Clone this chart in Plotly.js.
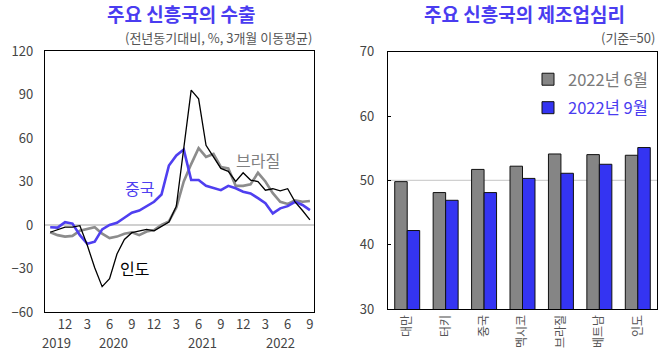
<!DOCTYPE html>
<html>
<head>
<meta charset="utf-8">
<script src="https://cdn.plot.ly/plotly-3.0.1.min.js"></script>
<style>html,body{margin:0;padding:0;background:#fff;}#chart{width:666px;height:352px;}</style>
</head>
<body>
<div id="chart"></div>
<script>
// ---- Left chart: exports (YoY %, 3-month moving average), Oct 2019 .. Sep 2022
const monthIndex = Array.from({length: 36}, (_, i) => i);
const monthTickVals = [2, 5, 8, 11, 14, 17, 20, 23, 26, 29, 32, 35];
const monthTickText = ["12", "3", "6", "9", "12", "3", "6", "9", "12", "3", "6", "9"];
const yearLabels = ["2019", "2020", "2021", "2022"];
const yearLabelPos = [0.9, 8.5, 20.5, 31.0];

const chinaExports = [-1.6, -1.8, 2, 1, -7, -13, -11.5, -3, 0, 1.5, 5, 8.5,
                      10, 13, 16, 21, 41, 48, 52, 31, 31, 27, 25.5, 24,
                      27, 25.3, 23, 21.8, 18.5, 15, 8, 11.5, 13, 16, 13.8, 10.3];
const indiaExports = [-5, -3, -1.5, -1.5, -0.5, -14, -29.5, -42.5, -37, -20, -10, -5.3,
                      -4, -3, -4, -1, 2, 13, 54, 93, 87, 55, 47, 39,
                      37, 30, 36, 31, 30, 24, 25, 23.5, 25, 16, 10, 3.5];
const brazilExports = [-5, -7, -8, -7.5, -4, -2.5, -1.5, -6, -9, -8, -6, -5,
                       -7, -4.5, -3.5, 0, 2.5, 12, 30, 42, 53, 47, 49, 40,
                       39, 27, 27, 28, 36, 30, 22, 16, 14.5, 17, 16, 16.5];

// ---- Right chart: manufacturing PMI
const countries = ["대만", "터키", "중국", "멕시코", "브라질", "베트남", "인도"];
const pmiJun2022 = [49.8, 48.1, 51.7, 52.2, 54.1, 54.0, 53.9];
const pmiSep2022 = [42.2, 46.9, 48.1, 50.3, 51.1, 52.5, 55.1];

const FONT = "Noto Sans CJK KR, Noto Sans, sans-serif";
const TITLE_BLUE = "#4a3cf0";
const LINE_BLUE = "#4f3ff0";
const LINE_GRAY = "#8c8c8c";
const BAR_GRAY = "#858585";
const BAR_BLUE = "#3434f2";

const traces = [
  {x: monthIndex, y: brazilExports, type: "scatter", mode: "lines", xaxis: "x", yaxis: "y",
   line: {color: LINE_GRAY, width: 2.6}, showlegend: false, hoverinfo: "skip"},
  {x: monthIndex, y: chinaExports, type: "scatter", mode: "lines", xaxis: "x", yaxis: "y",
   line: {color: LINE_BLUE, width: 2.6}, showlegend: false, hoverinfo: "skip"},
  {x: monthIndex, y: indiaExports, type: "scatter", mode: "lines", xaxis: "x", yaxis: "y",
   line: {color: "#000000", width: 1.3}, showlegend: false, hoverinfo: "skip"},
  {x: countries, y: pmiJun2022, type: "bar", xaxis: "x2", yaxis: "y2",
   name: '<span style="color:#7a7a7a">2022년 6월</span>', legendgroup: "a",
   marker: {color: BAR_GRAY, line: {color: "#111", width: 1}}},
  {x: countries, y: pmiSep2022, type: "bar", xaxis: "x2", yaxis: "y2",
   name: '<span style="color:#4a3cf0">2022년 9월</span>', legendgroup: "b",
   marker: {color: BAR_BLUE, line: {color: "#111", width: 1}}}
];

const tickFont = {family: FONT, size: 13, color: "#444"};

const annotations = [
  {text: "<b>주요 신흥국의 수출</b>", xref: "paper", yref: "paper", x: 181/666, y: 1 - 13/352,
   xanchor: "center", yanchor: "middle", showarrow: false, font: {family: FONT, size: 19, color: TITLE_BLUE}},
  {text: "(전년동기대비, %, 3개월 이동평균)", xref: "paper", yref: "paper", x: 314/666, y: 1 - 38/352,
   xanchor: "right", yanchor: "middle", showarrow: false, font: {family: FONT, size: 13, color: "#555"}},
  {text: "<b>주요 신흥국의 제조업심리</b>", xref: "paper", yref: "paper", x: 524/666, y: 1 - 13/352,
   xanchor: "center", yanchor: "middle", showarrow: false, font: {family: FONT, size: 19, color: TITLE_BLUE}},
  {text: "(기준=50)", xref: "paper", yref: "paper", x: 657/666, y: 1 - 38/352,
   xanchor: "right", yanchor: "middle", showarrow: false, font: {family: FONT, size: 13, color: "#555"}},
  {text: "중국", xref: "x", yref: "y", x: 12.0, y: 25.5, showarrow: false,
   font: {family: FONT, size: 16, color: LINE_BLUE}},
  {text: "브라질", xref: "x", yref: "y", x: 28.0, y: 45, showarrow: false,
   font: {family: FONT, size: 16, color: "#808080"}},
  {text: "인도", xref: "x", yref: "y", x: 11.3, y: -29.5, showarrow: false,
   font: {family: FONT, size: 16, color: "#000"}}
];
yearLabels.forEach((t, i) => annotations.push({
  text: t, xref: "x", yref: "paper", x: yearLabelPos[i], y: 1 - 342/352,
  xanchor: "center", yanchor: "middle", showarrow: false, font: tickFont
}));

const layout = {
  width: 666, height: 352,
  margin: {l: 0, r: 0, t: 0, b: 0},
  paper_bgcolor: "#fff", plot_bgcolor: "#fff",
  font: {family: FONT},
  showlegend: true,
  legend: {x: 528/666, y: 1 - 62/352, xanchor: "left", yanchor: "top",
           font: {family: FONT, size: 16.5}, bgcolor: "rgba(0,0,0,0)", tracegroupgap: 4,
           traceorder: "grouped", itemwidth: 30},
  xaxis: {domain: [45/666, 314/666], range: [-0.7, 35.55], tickvals: monthTickVals, ticktext: monthTickText,
          showgrid: false, zeroline: false, showline: true, linecolor: "#000", linewidth: 1.2, mirror: true,
          ticks: "", tickfont: tickFont, anchor: "y"},
  yaxis: {domain: [1 - 312/352, 1 - 51/352], range: [-60, 120], tickvals: [-60, -30, 0, 30, 60, 90, 120],
          showgrid: false, zeroline: true, zerolinecolor: "#d0d0d0", zerolinewidth: 1.2,
          showline: true, linecolor: "#000", linewidth: 1.2, mirror: true,
          ticks: "", tickfont: tickFont, ticklabelstandoff: 8, anchor: "x"},
  xaxis2: {domain: [388/666, 657/666], showgrid: false, zeroline: false, showline: true, linecolor: "#000",
           linewidth: 1.2, mirror: true, ticks: "", tickangle: -90, tickfont: {family: FONT, size: 12, color: "#555"},
           anchor: "y2"},
  yaxis2: {domain: [1 - 309/352, 1 - 51.7/352], range: [30, 70], dtick: 10, showgrid: false, zeroline: false,
           showline: true, linecolor: "#000", linewidth: 1.2, mirror: true,
           ticks: "inside", ticklen: 3, tickcolor: "#000", tickfont: tickFont, ticklabelstandoff: 10, anchor: "x2"},
  bargap: 0.35, bargroupgap: 0,
  shapes: [{type: "line", xref: "x2 domain", yref: "y2", x0: 0, x1: 1, y0: 50, y1: 50,
            line: {color: "#d0d0d0", width: 1.2}, layer: "below"}],
  annotations: annotations
};

Plotly.newPlot("chart", traces, layout, {staticPlot: true, displayModeBar: false});
</script>
</body>
</html>
